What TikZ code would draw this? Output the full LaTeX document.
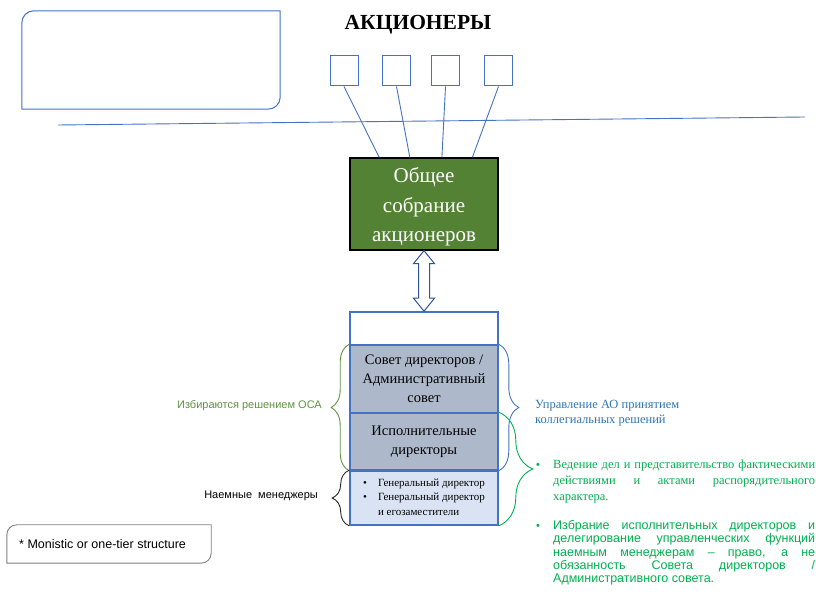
\documentclass[tikz,border=0pt]{standalone}
\usepackage{fontspec}
\setmainfont{Liberation Serif}
\setsansfont{Liberation Sans}
\definecolor{boxblue}{HTML}{4472C4}
\definecolor{gsagreen}{HTML}{548235}
\definecolor{boardgray}{HTML}{ADB9CA}
\definecolor{mgrblue}{HTML}{DAE3F3}
\definecolor{arrowblue}{HTML}{2F5597}
\definecolor{electgreen}{HTML}{5F9340}
\definecolor{dutygreen}{HTML}{00B050}
\definecolor{textblue}{HTML}{2E75B6}
\definecolor{notegray}{HTML}{7F7F7F}
\usetikzlibrary{calc,decorations.pathreplacing}

\begin{document}
\begin{tikzpicture}[x=1pt, y=1pt,
    sqbox/.style={draw=boxblue, line width=1pt, minimum width=28pt,
                minimum height=30pt, inner sep=0pt},
    layer/.style={draw=boxblue, line width=1.6pt, minimum width=148pt,
                inner sep=0pt, align=center, font=\fontsize{14.5}{19}\selectfont},
    tie/.style={draw=boxblue, line width=0.9pt},
    brc/.style={decorate, line width=0.9pt},
    dblarr/.style={draw=arrowblue, fill=white, line width=1pt, line join=miter},
    txt/.style={inner sep=0pt, anchor=north west}
  ]
    \useasboundingbox (0,0) rectangle (816,594);

    % Title and memo box
    \node[font=\fontsize{21.5}{26}\selectfont\bfseries] (title) at (418,569) {АКЦИОНЕРЫ};
    \node[minimum width=258pt, minimum height=98pt] (memo) at (151,534) {};
    \draw[boxblue, line width=1pt] (memo.south west) -- ([yshift=-12pt]memo.north west)
      arc[start angle=180, end angle=90, radius=12pt] -- (memo.north east)
      -- ([yshift=12pt]memo.south east) arc[start angle=0, end angle=-90, radius=12pt] -- cycle;

    % Shareholders
    \node[sqbox] (s1) at (344,523) {};
    \node[sqbox] (s2) at (396.5,523) {};
    \node[sqbox] (s3) at (445.5,523) {};
    \node[sqbox] (s4) at (498.5,523) {};

    \coordinate (lineL) at (58,469);
    \coordinate (lineR) at (805,477);
    \draw[tie] (lineL) -- (lineR);

    % General meeting
    \node[draw=black, line width=1.3pt, fill=gsagreen, minimum width=148pt,
          minimum height=92pt, align=center, text=white,
          font=\fontsize{21}{29.5}\selectfont] (gsa) at (424,390)
      {\rule{0pt}{21pt}Общее\\собрание\\акционеров};

    \draw[tie] (s1.south) -- ($(gsa.north west)!0.2!(gsa.north east)$);
    \draw[tie] (s2.south) -- ($(gsa.north west)!0.405!(gsa.north east)$);
    \draw[tie] (s3.south) -- ($(gsa.north west)!0.62!(gsa.north east)$);
    \draw[tie] (s4.south) -- ($(gsa.north west)!0.824!(gsa.north east)$);

    % Board stack
    \node[layer, minimum height=33pt] (stacktop) at (424,265.5) {};
    \node[layer, fill=boardgray, minimum height=68pt] (board) at (424,215)
      {Совет директоров /\\Административный\\совет};
    \node[layer, fill=boardgray, minimum height=57pt] (exec) at (424,152.5)
      {Исполнительные\\директоры};
    \node[layer, fill=mgrblue, minimum height=54pt, font=\fontsize{11}{14.5}\selectfont] (mgr) at (424,96)
      {\begin{tabular}{@{}l@{\hspace{11pt}}l@{}}
        \textbullet & Генеральный директор\\
        \textbullet & Генеральный директор\\
                    & и егозаместители
      \end{tabular}};

    % Double arrow
    \draw[dblarr] (gsa.south) -- ++(-10.5,-13) -- ++(5,0) -- ($(stacktop.north)+(-5.5,13)$)
      -- ++(-5,0) -- (stacktop.north) -- ++(10.5,13) -- ++(-5,0)
      -- ($(gsa.south)+(5.5,-13)$) -- ++(5,0) -- cycle;

    % Braces
    \draw[brc, electgreen, decoration={brace, amplitude=18pt}] (exec.south west) -- (board.north west);
    \draw[brc, black!85, decoration={brace, amplitude=17pt}] (mgr.south west) -- (mgr.north west);
    \draw[brc, boxblue, decoration={brace, amplitude=20pt}] (board.north east) -- (exec.south east);
    \draw[brc, dutygreen, decoration={brace, amplitude=34pt}] (exec.north east) -- (mgr.south east);

    % Left labels
    \node[anchor=east, inner sep=0pt, text=electgreen, font=\sffamily\fontsize{11}{13}\selectfont]
      (elect) at (322,188) {Избираются решением ОСА};
    \node[anchor=east, inner sep=0pt, font=\sffamily\fontsize{11}{13}\selectfont]
      (hired) at (318,98) {Наемные\ \ менеджеры};

    % Right texts
    \node[txt, text=textblue, align=left, font=\fontsize{12.5}{15}\selectfont] (collegial) at (535,194)
      {Управление АО принятием\\коллегиальных решений};

    \node[anchor=base, inner sep=0pt, text=dutygreen, font=\sffamily\fontsize{11}{13}\selectfont]
      (dot1) at (538,125) {•};
    \node[txt, text=dutygreen, text width=262pt, align=justify,
          font=\fontsize{12.5}{16}\selectfont] (duty1) at (553,134)
      {Ведение дел и представительство фактическими\linebreak действиями и актами распорядительного\linebreak характера.};

    \node[anchor=base, inner sep=0pt, text=dutygreen, font=\sffamily\fontsize{11}{13}\selectfont]
      (dot2) at (538,64.5) {•};
    \node[txt, text=dutygreen, text width=262pt, align=justify,
          font=\sffamily\fontsize{12.5}{13.4}\selectfont] (duty2) at (553,74)
      {Избрание исполнительных директоров и\linebreak делегирование управленческих функций\linebreak наемным менеджерам -- право, а не\linebreak обязанность Совета директоров /\linebreak Административного совета.};

    % Note box
    \node[minimum width=204pt, minimum height=38pt] (notebox) at (109,50) {};
    \draw[notegray, line width=0.9pt] (notebox.south west) -- ([yshift=-10pt]notebox.north west)
      arc[start angle=180, end angle=90, radius=10pt] -- (notebox.north east)
      -- ([yshift=10pt]notebox.south east) arc[start angle=0, end angle=-90, radius=10pt] -- cycle;
    \node[anchor=west, inner sep=0pt, font=\sffamily\fontsize{12.5}{15}\selectfont]
      (notetext) at (19,50) {* Monistic or one-tier structure};
  \end{tikzpicture}
\end{document}
